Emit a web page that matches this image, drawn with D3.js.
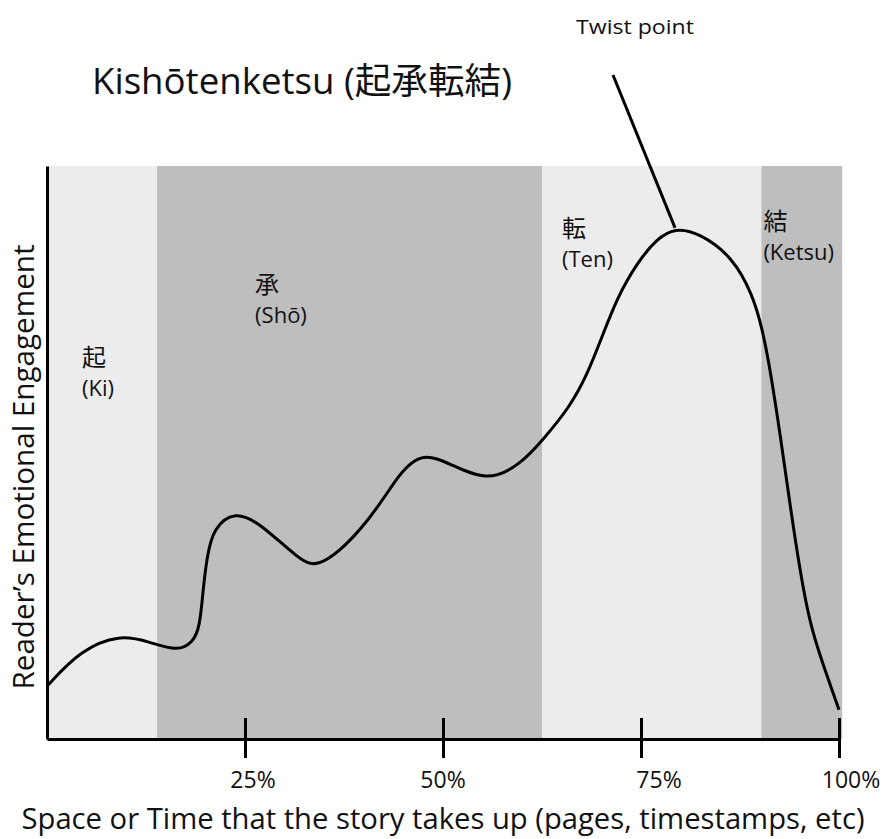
<!DOCTYPE html>
<html>
<head>
<meta charset="utf-8">
<script src="https://cdn.jsdelivr.net/npm/d3@7"></script>
<style>
  html, body { margin: 0; padding: 0; background: #fff; }
  svg { display: block; }
  text { font-family: "Open Sans", "Noto Sans CJK JP", sans-serif; fill: #111; }
</style>
</head>
<body>
<svg id="chart" width="886" height="839"></svg>
<script>
// story progress (%) and engagement (0-100)
var storyX = [0, 4.2, 9.2, 13, 16.5, 18.4, 19.3, 19.7, 20.2, 21, 23.7, 26.9, 31.9, 34.5, 40.8, 44.6,
    47.5, 50.9, 55.6, 59.7, 62.6, 66, 68.2, 69.8, 72, 74.5, 77, 79.3, 82.4, 86.6, 89.1, 90.3,
    91.3, 92.6, 93.8, 95.1, 96.3, 97.6, 100];
var engagement = [9.2, 15.5, 18.3, 16.9, 15.3, 16.8, 19.5, 26, 31.8, 36.8, 39.8, 37.7, 31.2, 29.5, 38, 46.8,
    50, 48, 44.9, 47.8, 52.2, 57.9, 63.6, 69.2, 77.1, 83.1, 87.3, 89.2, 88.3, 84.1, 77.5, 71.7,
    64.6, 52.9, 41, 29.1, 20.4, 14.5, 5.1];

var actKanji = ['起', '承', '転', '結'];
var actRomaji = ['(Ki)', '(Shō)', '(Ten)', '(Ketsu)'];
var actStart = [0, 13.9, 62.5, 90.2];
var actEnd = [13.9, 62.5, 90.2, 100.4];

var tickValues = [25, 50, 75, 100];
var tickLabels = ['25%', '50%', '75%', '100%'];

var twistAt = 79.3;

var svg = d3.select('#chart');

var x = d3.scaleLinear().domain([0, 100]).range([47, 839]);
var y = d3.scaleLinear().domain([0, 100]).range([739, 166]);

// bands
svg.selectAll('.band')
    .data(actStart)
    .enter()
    .append('rect')
    .attr('class', 'band')
    .attr('x', function (d) { return x(d); })
    .attr('y', y(100))
    .attr('width', function (d, i) { return x(actEnd[i]) - x(d); })
    .attr('height', y(0) - y(100))
    .attr('fill', function (d, i) { return i % 2 == 0 ? '#ececec' : '#bebebe'; });

// label placement inside each band (dx from band start, baseline of kanji)
var labelPos = [[35, 366], [98, 293], [20, 237], [2, 230]];
var labels = svg.selectAll('.act')
    .data(actKanji)
    .enter()
    .append('text')
    .attr('class', 'act')
    .attr('transform', function (d, i) {
        return 'translate(' + (x(actStart[i]) + labelPos[i][0]) + ',' + labelPos[i][1] + ')';
    });
labels.append('tspan').attr('x', 0).attr('y', 0)
    .attr('font-size', 24)
    .style('font-family', '"Noto Sans CJK JP", sans-serif')
    .text(function (d) { return d; });
labels.append('tspan').attr('x', 0).attr('y', 30)
    .attr('font-size', 22)
    .text(function (d, i) { return actRomaji[i]; });

// the curve
var line = d3.line()
    .x(function (d) { return x(d[0]); })
    .y(function (d) { return y(d[1]); })
    .curve(d3.curveBasis);

svg.append('path')
    .datum(d3.zip(storyX, engagement))
    .attr('d', line)
    .attr('fill', 'none')
    .attr('stroke', '#000')
    .attr('stroke-width', 3);

// axes
var xAxis = svg.append('g')
    .attr('transform', 'translate(0,' + y(0) + ')')
    .call(d3.axisBottom(x).tickValues(tickValues).tickSize(19).tickSizeOuter(0).tickFormat(''));
xAxis.select('.domain').attr('stroke-width', 3).attr('stroke', '#000');
xAxis.selectAll('.tick line').attr('y1', -21).attr('stroke-width', 3).attr('stroke', '#000');

var yAxis = svg.append('g')
    .attr('transform', 'translate(' + x(0) + ',0)')
    .call(d3.axisLeft(y).tickValues([]).tickSizeOuter(0));
yAxis.select('.domain').attr('stroke-width', 3).attr('stroke', '#000');

var tickOffset = [8, 0, 18, 12];
svg.selectAll('.ticklabel')
    .data(tickValues)
    .enter()
    .append('text')
    .attr('class', 'ticklabel')
    .attr('x', function (d, i) { return x(d) + tickOffset[i]; })
    .attr('y', 788)
    .attr('text-anchor', 'middle')
    .attr('font-size', 23)
    .text(function (d, i) { return tickLabels[i]; });

// titles
svg.append('text')
    .attr('x', 92).attr('y', 94)
    .attr('font-size', 36)
    .attr('textLength', 420).attr('lengthAdjust', 'spacingAndGlyphs')
    .text('Kishōtenketsu (起承転結)');

svg.append('text')
    .attr('x', 443).attr('y', 829)
    .attr('text-anchor', 'middle')
    .attr('font-size', 30)
    .attr('textLength', 843).attr('lengthAdjust', 'spacingAndGlyphs')
    .text('Space or Time that the story takes up (pages, timestamps, etc)');

svg.append('text')
    .attr('transform', 'translate(34,467) rotate(-90)')
    .attr('text-anchor', 'middle')
    .attr('font-size', 29)
    .attr('textLength', 445).attr('lengthAdjust', 'spacingAndGlyphs')
    .text('Reader’s Emotional Engagement');

// twist point annotation
var peakY = engagement[storyX.indexOf(twistAt)];
svg.append('line')
    .attr('x1', 613).attr('y1', 75)
    .attr('x2', x(twistAt)).attr('y2', y(peakY))
    .attr('stroke', '#000').attr('stroke-width', 3);

svg.append('text')
    .attr('x', 635).attr('y', 34)
    .attr('text-anchor', 'middle')
    .attr('font-size', 20)
    .attr('textLength', 118).attr('lengthAdjust', 'spacingAndGlyphs')
    .text('Twist point');
</script>
</body>
</html>
